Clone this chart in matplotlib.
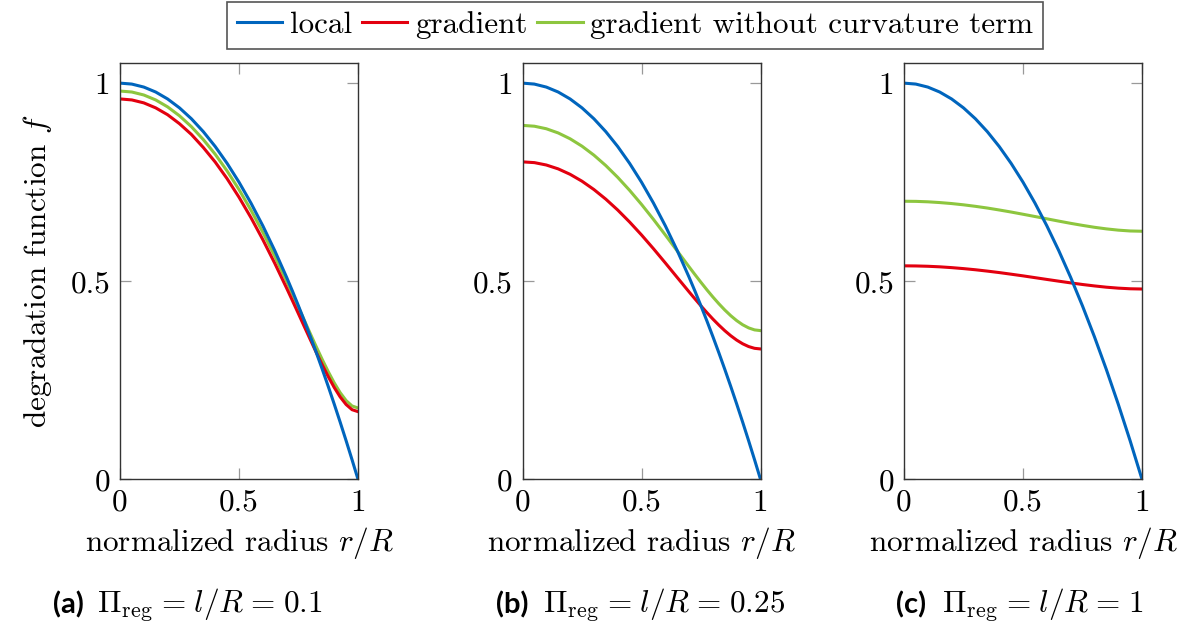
import matplotlib
matplotlib.use("Agg")
import matplotlib.pyplot as plt
from matplotlib.lines import Line2D

plt.rcParams["font.family"] = "cmr10"
plt.rcParams["mathtext.fontset"] = "cm"
plt.rcParams["axes.formatter.use_mathtext"] = True

# radius grids (finer sampling near the outer edge where curves bend sharply)
r_fine = [0, 0.05, 0.1, 0.15, 0.2, 0.25, 0.3, 0.35, 0.4, 0.45, 0.5, 0.55, 0.6, 0.65, 0.7,
          0.725, 0.75, 0.775, 0.8, 0.825, 0.85, 0.875, 0.9, 0.925, 0.95, 0.975, 1.0]
r_coarse = [0, 0.05, 0.1, 0.15, 0.2, 0.25, 0.3, 0.35, 0.4, 0.45, 0.5, 0.55, 0.6, 0.65, 0.7,
            0.75, 0.8, 0.85, 0.9, 0.95, 1.0]

# local model (same in every panel)
local_fine = [1.0, 0.9975, 0.99, 0.9775, 0.96, 0.9375, 0.91, 0.8775, 0.84, 0.7975, 0.75, 0.6975,
              0.64, 0.5775, 0.51, 0.4744, 0.4375, 0.3994, 0.36, 0.3194, 0.2775, 0.2344, 0.19,
              0.1444, 0.0975, 0.0494, 0.0]
local_coarse = [1.0, 0.9975, 0.99, 0.9775, 0.96, 0.9375, 0.91, 0.8775, 0.84, 0.7975, 0.75,
                0.6975, 0.64, 0.5775, 0.51, 0.4375, 0.36, 0.2775, 0.19, 0.0975, 0.0]

# (a) Pi_reg = 0.1
grad_a = [0.9601, 0.9575, 0.9501, 0.9375, 0.9202, 0.8975, 0.8704, 0.8375, 0.8008, 0.7588,
          0.712, 0.6607, 0.605, 0.5455, 0.4826, 0.4503, 0.4176, 0.3847, 0.352, 0.3198,
          0.2887, 0.2591, 0.2319, 0.208, 0.1888, 0.1757, 0.1708]
nocurv_a = [0.98, 0.9775, 0.97, 0.9575, 0.94, 0.9175, 0.89, 0.8575, 0.8205, 0.7783, 0.7313,
            0.6797, 0.6237, 0.5635, 0.5, 0.4672, 0.4339, 0.4005, 0.3671, 0.3341, 0.3021,
            0.2717, 0.2436, 0.2188, 0.1988, 0.1851, 0.18]

# (b) Pi_reg = 0.25
grad_b = [0.8012, 0.7993, 0.7933, 0.7835, 0.7698, 0.7524, 0.7314, 0.7071, 0.6797, 0.6494,
          0.6168, 0.5822, 0.5462, 0.5095, 0.473, 0.4551, 0.4376, 0.4206, 0.4044, 0.3892,
          0.3751, 0.3624, 0.3513, 0.3421, 0.3351, 0.3306, 0.329]
nocurv_b = [0.8933, 0.8912, 0.8848, 0.8742, 0.8595, 0.8408, 0.8182, 0.7919, 0.7622, 0.7294,
            0.6939, 0.6562, 0.6168, 0.5765, 0.5362, 0.5164, 0.497, 0.4781, 0.4601, 0.4431,
            0.4273, 0.413, 0.4005, 0.3901, 0.3822, 0.3771, 0.3753]

# (c) Pi_reg = 1
grad_c = [0.5388, 0.5385, 0.5377, 0.5363, 0.5343, 0.5318, 0.5289, 0.5255, 0.5218, 0.5177,
          0.5135, 0.509, 0.5045, 0.5001, 0.4958, 0.4917, 0.4881, 0.4849, 0.4825, 0.4809, 0.4803]
nocurv_c = [0.7018, 0.7015, 0.7004, 0.6985, 0.696, 0.6928, 0.689, 0.6847, 0.6798, 0.6746,
            0.669, 0.6633, 0.6575, 0.6517, 0.6461, 0.6409, 0.6361, 0.6321, 0.6289, 0.6268, 0.6261]

series_labels = ["local", "gradient", "gradient without curvature term"]
colors = ["#0065BD", "#E3000F", "#8DC63F"]
captions = ["(a)", "(b)", "(c)"]
eq = r"\hspace{0.1}=\hspace{0.1}"
cap_math = [r"$\Pi_{\mathrm{reg}}" + eq + r"l/R" + eq + r"0.1$",
            r"$\Pi_{\mathrm{reg}}" + eq + r"l/R" + eq + r"0.25$",
            r"$\Pi_{\mathrm{reg}}" + eq + r"l/R" + eq + r"1$"]

panels = [
    (r_fine, local_fine, grad_a, nocurv_a),
    (r_fine, local_fine, grad_b, nocurv_b),
    (r_coarse, local_coarse, grad_c, nocurv_c),
]

W, H = 1189, 628
fig = plt.figure(figsize=(W / 100, H / 100), dpi=100)

fs = 22.5
lefts = [120, 522.5, 904]
ax_w, ax_top, ax_bot = 238, 63.3, 479.3
cap_x = [53, 496, 896]
math_x = [97, 543, 942]

for i, (r, loc, grad, nocurv) in enumerate(panels):
    ax = fig.add_axes([lefts[i] / W, 1 - ax_bot / H, ax_w / W, (ax_bot - ax_top) / H])
    ax.plot(r, nocurv, color=colors[2], lw=2.2)
    ax.plot(r, grad, color=colors[1], lw=2.2)
    ax.plot(r, loc, color=colors[0], lw=2.2)
    ax.set_xlim(0, 1)
    ax.set_ylim(0, 1.05)
    ax.set_xticks([0, 0.5, 1])
    ax.set_xticklabels(["0", "0.5", "1"])
    ax.set_yticks([0, 0.5, 1])
    ax.set_yticklabels(["0", "0.5", "1"])
    ax.tick_params(direction="in", length=8, width=0.9, color="#999999",
                   top=True, right=True, labelsize=fs, pad=7)
    for sp in ax.spines.values():
        sp.set_color("#333333")
        sp.set_linewidth(1.0)
    ax.set_xlabel(r"normalized radius $r/R$", fontsize=fs, labelpad=6)
    if i == 0:
        ax.set_ylabel(r"degradation function $f$", fontsize=fs, labelpad=12)

    fig.text(cap_x[i] / W, 1 - 613 / H, captions[i], fontsize=21, family="Lato",
             weight="bold", va="baseline", ha="left")
    fig.text(math_x[i] / W, 1 - 613 / H, cap_math[i], fontsize=fs, va="baseline", ha="left")

handles = [Line2D([], [], color=c, lw=2.2) for c in colors]
leg = fig.legend(handles, series_labels, loc="upper center",
                 bbox_to_anchor=(635 / W, 1 - 2 / H), ncol=3, frameon=True,
                 fancybox=False, edgecolor="#555555", framealpha=1, fontsize=22.4,
                 handlelength=1.47, handletextpad=0.25, columnspacing=0.3,
                 borderpad=0.3, borderaxespad=0)
leg.get_frame().set_linewidth(1.2)

fig.savefig("out.png", dpi=100)
